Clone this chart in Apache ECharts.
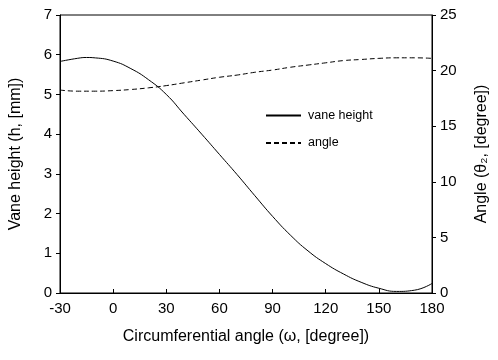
<!DOCTYPE html>
<html>
<head>
<meta charset="utf-8">
<script src="https://cdn.jsdelivr.net/npm/echarts@6/dist/echarts.min.js"></script>
<style>
  html, body { margin: 0; padding: 0; background: #fff; }
  #chart { width: 498px; height: 360px; }
</style>
</head>
<body>
<div id="chart"></div>
<script>
// Circumferential positions (degree)
const omegaH = [-30, -20, -15, -10, 0, 10, 20, 30, 40, 50, 60, 70, 80, 90, 100, 110, 120, 130, 140, 150, 160, 170, 180];
// Vane height h [mm]
const vaneHeight = [5.83, 5.91, 5.93, 5.92, 5.84, 5.65, 5.37, 5.0, 4.5, 4.0, 3.49, 2.98, 2.45, 1.93, 1.46, 1.06, 0.74, 0.48, 0.27, 0.12, 0.04, 0.07, 0.24];

const omegaA = [-30, -20, -10, 0, 10, 20, 30, 40, 50, 60, 70, 80, 90, 100, 110, 120, 130, 140, 150, 160, 170, 180];
// Vane angle theta2 [degree]
const vaneAngle = [18.25, 18.15, 18.15, 18.2, 18.3, 18.45, 18.65, 18.9, 19.15, 19.4, 19.6, 19.85, 20.05, 20.3, 20.5, 20.7, 20.9, 21.0, 21.1, 21.15, 21.15, 21.1];

const pair = (xs, ys) => xs.map((x, i) => [x, ys[i]]);

const font = 'Liberation Sans, Arial, sans-serif';
const chart = echarts.init(document.getElementById('chart'), null, { renderer: 'canvas' });

const axisLine = () => ({ show: true, onZero: false, lineStyle: { color: '#000', width: 1 } });
const axisTick = (inside) => ({ show: true, inside: !!inside, length: 4, lineStyle: { color: '#000' } });
const axisLabel = () => ({ color: '#000', fontSize: 15, fontFamily: font, margin: 8 });
const nameStyle = () => ({ color: '#000', fontSize: 16, fontFamily: font });

chart.setOption({
  animation: false,
  backgroundColor: '#fff',
  grid: { left: 57, right: 60, top: 15, bottom: 67, show: true, borderColor: '#000', borderWidth: 1, backgroundColor: 'transparent' },
  legend: {
    orient: 'vertical',
    left: 260,
    top: 104,
    itemWidth: 35,
    itemHeight: 12,
    itemGap: 14.5,
    textStyle: { color: '#000', fontSize: 12.5, fontFamily: font, padding: [0, 0, 0, 2] },
    itemStyle: { color: 'transparent', borderColor: 'transparent', borderWidth: 0 },
    data: ['vane height', 'angle']
  },
  xAxis: {
    type: 'value', min: -30, max: 180, interval: 30,
    name: 'Circumferential angle (ω, [degree])',
    nameLocation: 'middle', nameGap: 36,
    nameTextStyle: nameStyle(),
    axisLine: axisLine(), axisTick: axisTick(true), axisLabel: axisLabel(),
    splitLine: { show: false }
  },
  yAxis: [
    {
      type: 'value', min: 0, max: 7, interval: 1, position: 'left',
      name: 'Vane height (h, [mm])',
      nameLocation: 'middle', nameGap: 36, nameRotate: 90,
      nameTextStyle: nameStyle(),
      axisLine: axisLine(), axisTick: axisTick(false), axisLabel: axisLabel(),
      splitLine: { show: false }
    },
    {
      type: 'value', min: 0, max: 25, interval: 5, position: 'right',
      name: 'Angle (θ₂, [degree])',
      nameLocation: 'middle', nameGap: 42, nameRotate: 90,
      nameTextStyle: nameStyle(),
      axisLine: axisLine(), axisTick: axisTick(false), axisLabel: axisLabel(),
      splitLine: { show: false }
    }
  ],
  series: [
    {
      name: 'vane height', type: 'line', yAxisIndex: 0,
      data: pair(omegaH, vaneHeight), smooth: 0.5, symbol: 'none',
      lineStyle: { color: '#000', width: 1 }, itemStyle: { color: 'transparent' }
    },
    {
      name: 'angle', type: 'line', yAxisIndex: 1,
      data: pair(omegaA, vaneAngle), smooth: 0.5, symbol: 'none',
      lineStyle: { color: '#000', width: 1, type: [5, 3] }, itemStyle: { color: 'transparent' }
    }
  ]
});
</script>
</body>
</html>
